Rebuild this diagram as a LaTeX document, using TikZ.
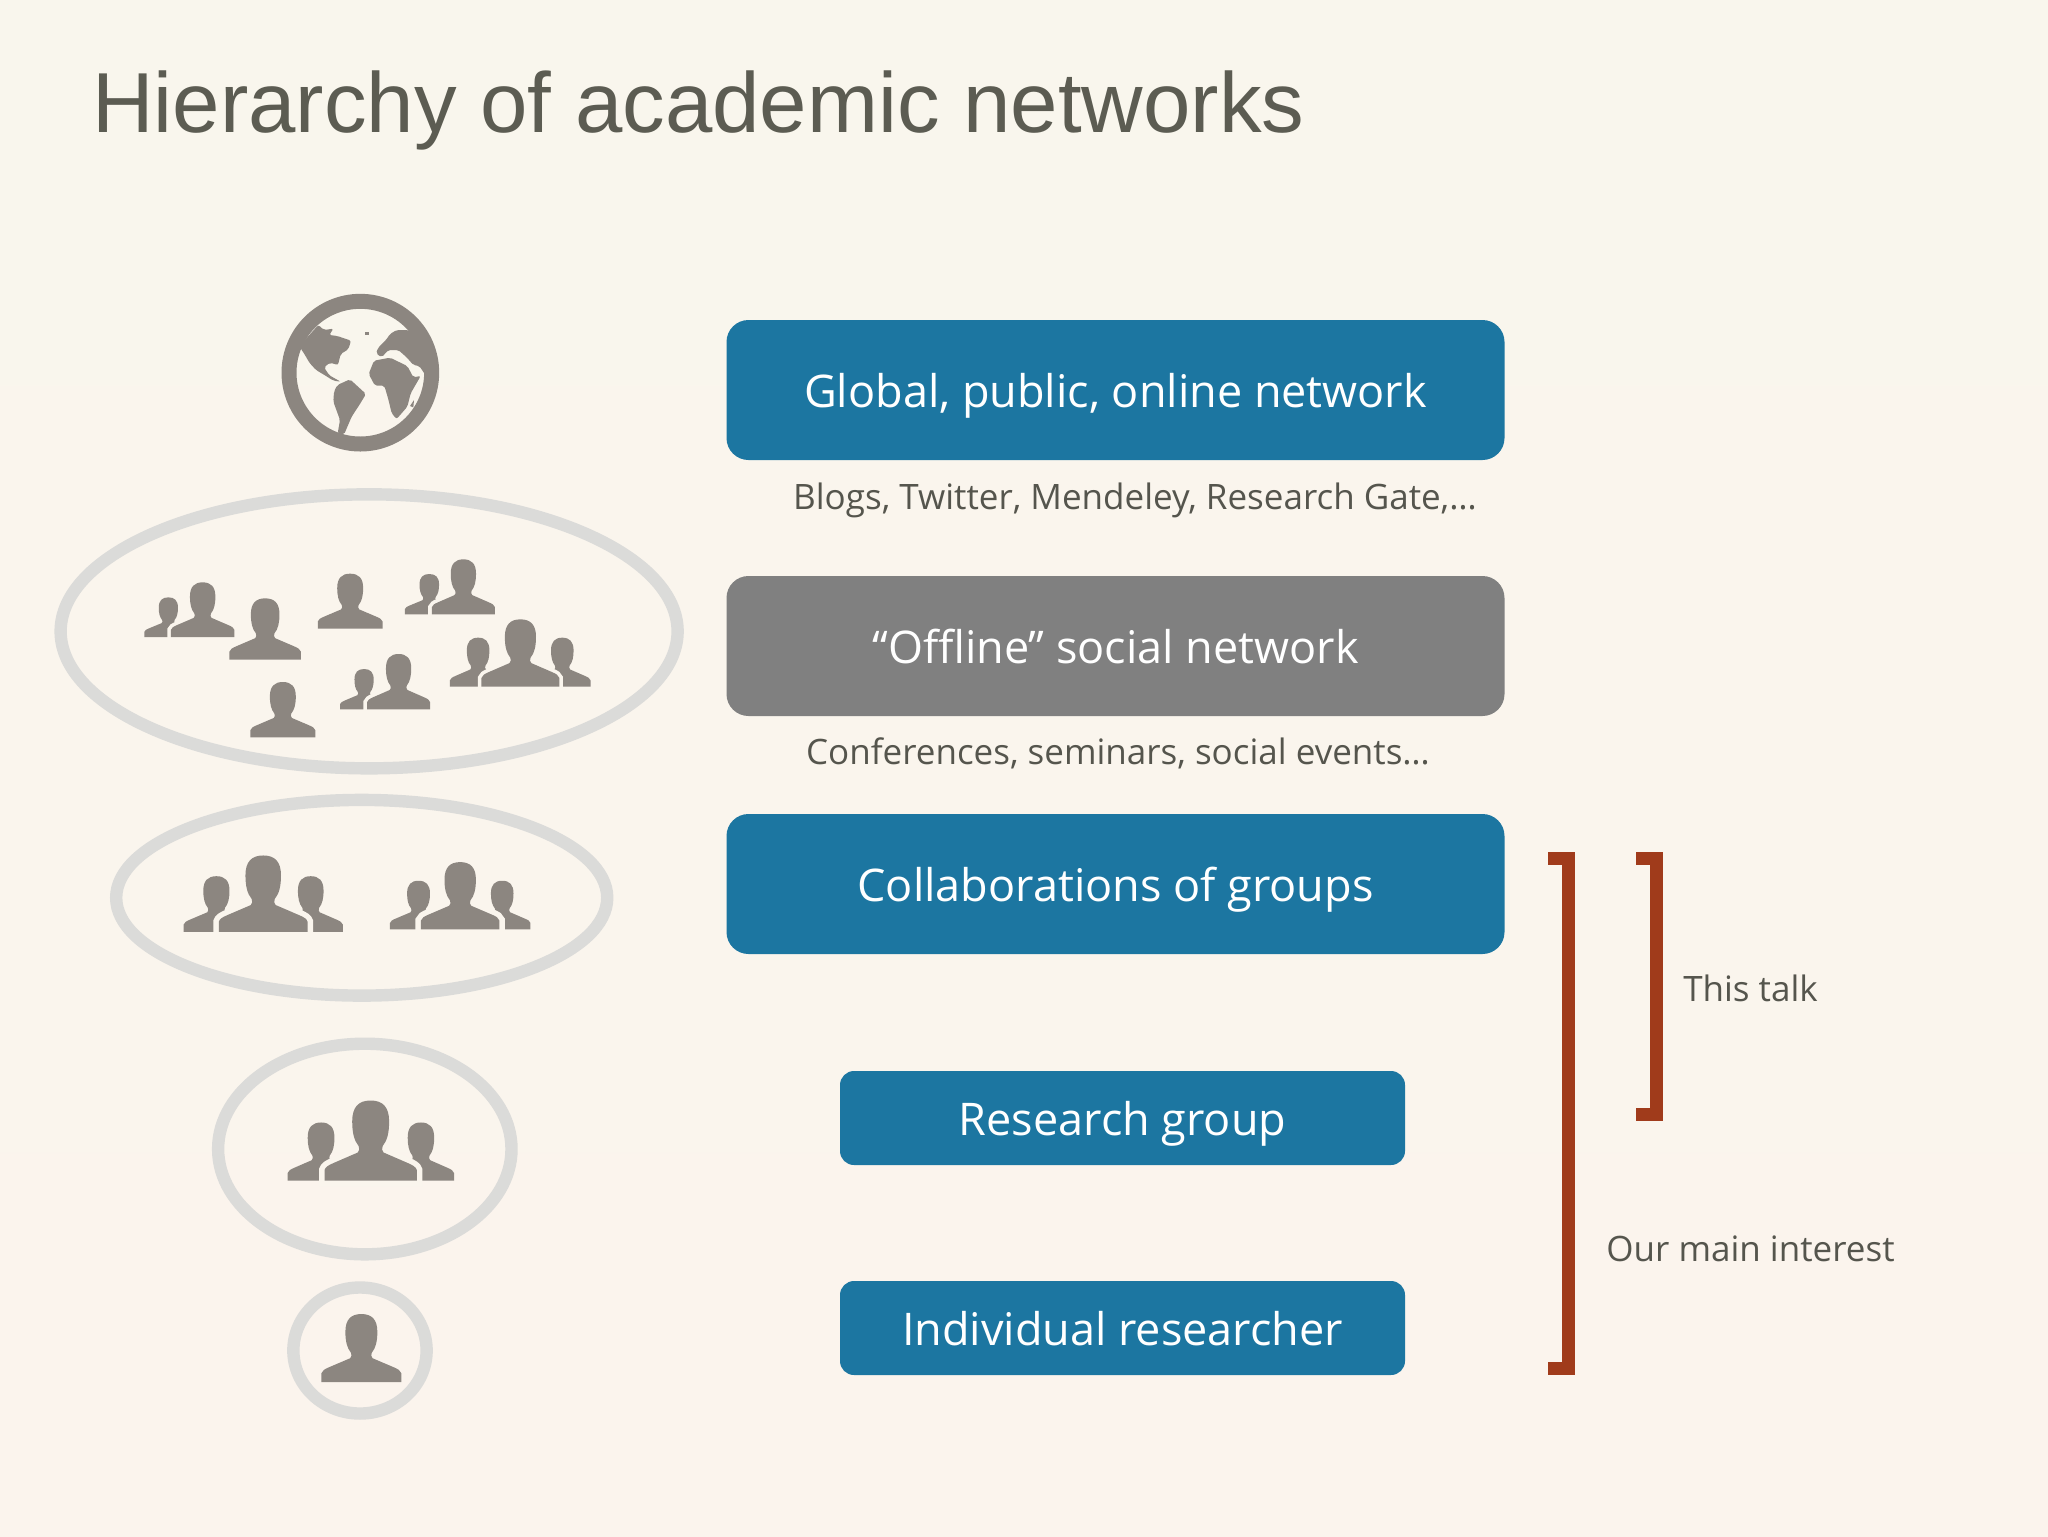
\documentclass[tikz,border=0pt]{standalone}
\usepackage{fontspec}
\setmainfont{Open Sans}
\newfontfamily\titlefont{Liberation Sans}
\definecolor{bgtop}{HTML}{F9F6ED}
\definecolor{bgbot}{HTML}{FBF4ED}
\definecolor{bgmid}{HTML}{FAF5ED}
\definecolor{personc}{HTML}{8C8680}
\definecolor{ringc}{HTML}{DBDBD9}
\definecolor{bluebox}{HTML}{1C76A1}
\definecolor{greybox}{HTML}{808080}
\definecolor{brk}{HTML}{A03B1B}
\definecolor{txt}{HTML}{55554D}
\definecolor{titlec}{HTML}{5C5C52}
\def\personpath{(-0.5,0) -- (-0.5,0.13) .. controls (-0.49,0.17) and (-0.46,0.19) .. (-0.4,0.22) -- (-0.14,0.35) .. controls (-0.12,0.37) and (-0.12,0.4) .. (-0.13,0.43) .. controls (-0.18,0.5) and (-0.2,0.6) .. (-0.2,0.74) .. controls (-0.2,0.92) and (-0.13,1) .. (0,1) .. controls (0.13,1) and (0.2,0.92) .. (0.2,0.74) .. controls (0.2,0.6) and (0.18,0.5) .. (0.13,0.43) .. controls (0.12,0.4) and (0.12,0.37) .. (0.14,0.35) -- (0.4,0.22) .. controls (0.46,0.19) and (0.49,0.17) .. (0.5,0.13) -- (0.5,0) -- cycle}
\newcommand{\zperson}[4]{\pgfmathsetmacro\pw{#2*\pzx}\pgfmathsetmacro\ph{(#4-#3)*\pzy}\begin{scope}[shift={(#1,#4)},x=\pw pt,y=\ph pt]\fill[personc] \personpath;\end{scope}}
\newcommand{\zfront}[5]{\pgfmathsetmacro\pw{#2*\pzx}\pgfmathsetmacro\ph{(#4-#3)*\pzy}\begin{scope}[shift={(#1,#4)},x=\pw pt,y=\ph pt]\draw[bgmid,line width=#5] \personpath;\fill[personc] \personpath;\end{scope}}
\tikzset{
  ringline/.style={draw=ringc,line width=6.2pt},
  bigbox/.style={rectangle,rounded corners=11pt,minimum width=389pt,minimum height=70pt,text=white,font=\fontsize{22.5}{26}\selectfont,inner sep=0pt,text height=17pt,text depth=0pt},
  smallbox/.style={rectangle,rounded corners=7pt,fill=bluebox,minimum width=282.5pt,minimum height=47pt,text=white,font=\fontsize{22.5}{26}\selectfont,inner sep=0pt,text height=17pt,text depth=0pt},
  subtxt/.style={text=txt,font=\fontsize{17.5}{20}\selectfont,inner sep=0pt,text height=13pt,text depth=0pt},
  bracketline/.style={draw=brk,line width=6.6pt,miter limit=10},
  land/.style={fill=personc,rounded corners=1pt}
}
\begin{document}
\begin{tikzpicture}[x=0.5pt,y=-0.5pt]
\useasboundingbox (0,0) rectangle (2048,1536);
\shade[top color=bgtop,bottom color=bgbot] (0,0) rectangle (2048,1536);
\node[anchor=base west,inner sep=0pt,text=titlec,font=\titlefont\fontsize{42.6}{50}\selectfont] (title) at (92,133) {Hierarchy of academic networks};
% globe
\begin{scope}[shift={(250,270)},x=0.16667pt,y=-0.16667pt]
\draw[personc,line width=7.5pt] (331,308) circle [radius=214];
\path[land] (150,232) -- (160,215) -- (205,165) -- (222,180) -- (250,176) -- (238,195) -- (262,198) -- (303,212) -- (295,238) -- (272,252) -- (264,285) -- (240,278) -- (222,292) -- (238,316) -- (272,335) -- (250,332) -- (225,316) -- (198,300) -- (178,278) -- (165,255) -- cycle;
\path[land] (262,345) -- (300,328) -- (348,372) -- (328,405) -- (305,440) -- (282,494) -- (263,490) -- (270,450) -- (250,395) -- (252,365) -- cycle;
\path[land] (356,312) -- (372,272) -- (420,263) -- (472,288) -- (490,322) -- (512,318) -- (482,370) -- (472,410) -- (440,447) -- (425,430) -- (415,388) -- (403,347) -- (375,347) -- cycle;
\path[land] (385,232) -- (408,210) -- (420,192) -- (440,180) -- (475,180) -- (500,200) -- (530,260) -- (528,318) -- (508,288) -- (490,285) -- (470,262) -- (445,240) -- (415,240) -- (395,262) -- (378,250) -- cycle;
\fill[personc] (345,186) -- (358,186) -- (358,194) -- (345,194) -- cycle;
\fill[personc] (480,408) -- (492,390) -- (490,412) -- cycle;
\end{scope}
% big cloud
\begin{scope}[shift={(40,480)},x=0.21044pt,y=-0.16667pt]
\def\pzx{0.21044}\def\pzy{0.16667}
\draw[ringline] (782,454) ellipse [x radius=733,y radius=411];
\zperson{305}{114}{352}{471}\zfront{386.5}{151}{307}{471}{3.6pt}
\zperson{535}{170}{355}{539}
\zperson{737}{154}{281}{446}
\zperson{925}{116}{282}{403}\zfront{1006}{150}{238}{403}{3.6pt}
\zperson{1041}{134}{473}{620}\zperson{1241}{134}{473}{620}\zfront{1141.5}{185}{418}{620}{3.6pt}
\zperson{770}{114}{567}{688}\zfront{852}{150}{522}{688}{3.6pt}
\zperson{577}{154}{606}{772}
\end{scope}
% lower rings
\begin{scope}[shift={(100,780)},x=0.17218pt,y=-0.2073pt]
\def\pzx{0.17218}\def\pzy{0.2073}
\draw[ringline] (760,284) ellipse [x radius=713,y radius=236];
\draw[ringline] (769,890) ellipse [x radius=426,y radius=254];
\draw[ringline] (755,1376) ellipse [x radius=193.5,y radius=152];
\zperson{338}{190}{232}{366}\zperson{612}{186}{232}{366}\zfront{474}{258}{182}{366}{5.5pt}
\zperson{925}{166}{243}{360}\zperson{1168}{164}{243}{360}\zfront{1046}{228}{198}{360}{5.5pt}
\zperson{642}{194}{826}{966}\zperson{932}{192}{826}{966}\zfront{786}{268}{773}{966}{5.5pt}
\zperson{759}{232}{1288}{1452}
\end{scope}
% boxes
\node[bigbox,fill=bluebox] (global) at (1115.5,390) {Global, public, online network};
\node[bigbox,fill=greybox] (offline) at (1115.5,646) {“Offline” social network};
\node[bigbox,fill=bluebox] (collab) at (1115.5,884) {Collaborations of groups};
\node[smallbox] (research) at (1122.5,1118) {Research group};
\node[smallbox] (individual) at (1122.5,1328) {Individual researcher};
\node[subtxt] (blogs) at (1135,496) {Blogs, Twitter, Mendeley, Research Gate,…};
\node[subtxt] (conf) at (1118,751) {Conferences, seminars, social events…};
% brackets
\draw[bracketline] (1548.3,858.5) -- (1568.5,858.5) -- (1568.5,1368.5) -- (1548.3,1368.5);
\draw[bracketline] (1636,858.5) -- (1656.3,858.5) -- (1656.3,1114.5) -- (1636,1114.5);
\node[subtxt] (talk) at (1750.5,988) {This talk};
\node[subtxt] (interest) at (1750.5,1248) {Our main interest};
\end{tikzpicture}
\end{document}
